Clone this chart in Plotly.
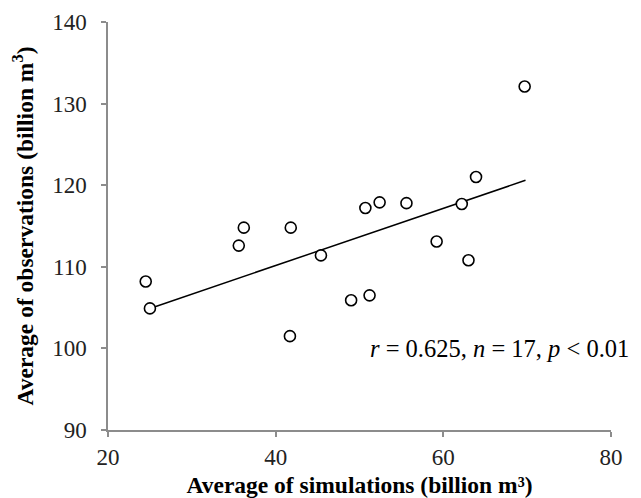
import plotly.graph_objects as go

sim = [24.5, 25.0, 35.6, 36.2, 41.8, 41.7, 45.4, 49.0, 51.2, 50.7, 52.4, 55.6, 69.7, 63.9, 62.2, 59.2, 63.0]
obs = [108.2, 104.9, 112.6, 114.8, 114.8, 101.5, 111.4, 105.9, 106.5, 117.2, 117.9, 117.8, 132.1, 121.0, 117.7, 113.1, 110.8]
trend_x = [25.0, 69.8]
trend_y = [104.9, 120.6]
x_ticks = [20, 40, 60, 80]
y_ticks = [90, 100, 110, 120, 130, 140]

FONT = "Liberation Serif"
AX = "#8c8c8c"

fig = go.Figure()
fig.add_trace(go.Scatter(x=trend_x, y=trend_y, mode="lines",
                         line=dict(color="black", width=1.5), showlegend=False))
fig.add_trace(go.Scatter(x=sim, y=obs, mode="markers",
                         marker=dict(size=11, color="white", line=dict(color="black", width=1.6)),
                         showlegend=False))

fig.add_annotation(x=1.0, y=0.2, xref="paper", yref="paper", xanchor="right", yanchor="middle",
                   xshift=20,
                   text="<i>r</i> = 0.625, <i>n</i> = 17, <i>p</i> < 0.01", showarrow=False,
                   font=dict(family=FONT, size=24.5, color="black"))

fig.update_layout(
    width=641, height=498,
    margin=dict(l=108, r=30, t=22, b=68),
    paper_bgcolor="white", plot_bgcolor="white",
    font=dict(family=FONT, size=23, color="#222"),
    xaxis=dict(range=[20, 80], tickvals=x_ticks, showgrid=False, zeroline=False, automargin=False,
               showline=True, linecolor=AX, linewidth=1.5, ticks="outside", tickcolor=AX,
               ticklen=5, tickwidth=1.5, ticklabelstandoff=1,
               tickfont=dict(family=FONT, size=23, color="#222"),
               title=dict(text="<b>Average of simulations (billion m³)</b>", standoff=8,
                          font=dict(family=FONT, size=23.5, color="black"))),
    yaxis=dict(range=[90, 140], tickvals=y_ticks, showgrid=False, zeroline=False, automargin=False,
               showline=True, linecolor=AX, linewidth=1.5, ticks="outside", tickcolor=AX,
               ticklen=5, tickwidth=1.5, ticklabelstandoff=10,
               tickfont=dict(family=FONT, size=23, color="#222"),
               title=dict(text="<b>Average of observations (billion m<sup>3</sup>)</b>", standoff=12,
                          font=dict(family=FONT, size=23.5, color="black"))),
)

fig.write_html("out.html")
